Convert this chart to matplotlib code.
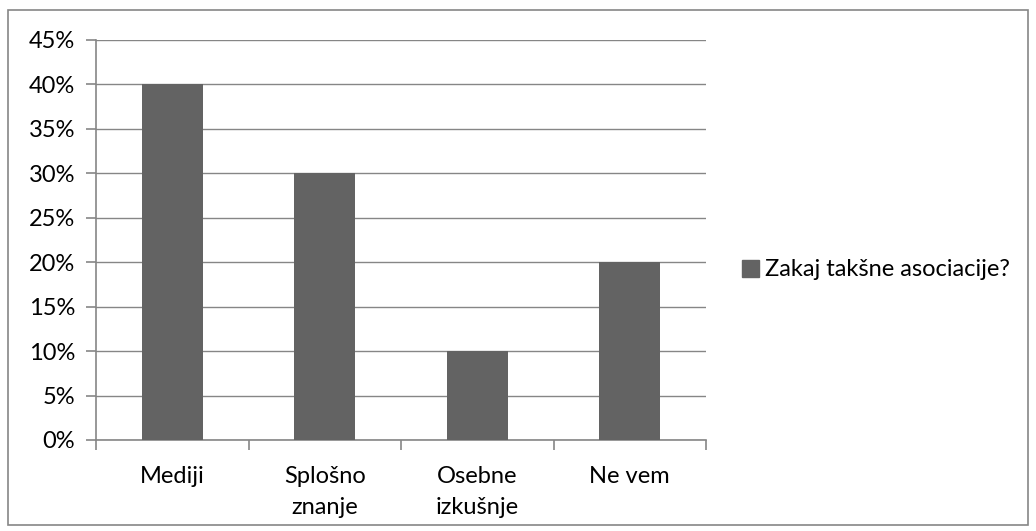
import matplotlib
matplotlib.use("Agg")
import matplotlib.pyplot as plt
from matplotlib.patches import Rectangle
from matplotlib.ticker import PercentFormatter, MultipleLocator

categories = ["Mediji", "Splošno\nznanje", "Osebne\nizkušnje", "Ne vem"]
values = [40, 30, 10, 20]
series_name = "Zakaj takšne asociacije?"

plt.rcParams['font.family'] = ['Lato', 'DejaVu Sans']
FS = 17
fig = plt.figure(figsize=(10.36, 5.31), dpi=100)
ax = fig.add_axes([96/1036, 91/531, 610/1036, 400/531])

grid_c = "#868686"
bar_c = "#636363"
x = range(len(categories))
ax.bar(x, values, width=0.4, color=bar_c, zorder=3, label=series_name)
ax.set_xlim(-0.5, len(categories) - 0.5)
ax.set_ylim(0, 45)
ax.yaxis.set_major_locator(MultipleLocator(5))
ax.yaxis.set_major_formatter(PercentFormatter(decimals=0))
ax.grid(axis='y', color=grid_c, linewidth=1, zorder=0)
for s in ['top', 'right']:
    ax.spines[s].set_visible(False)
for s in ['left', 'bottom']:
    ax.spines[s].set_color(grid_c)
    ax.spines[s].set_linewidth(1.2)
ax.set_xticks([i for i in x])
ax.set_xticklabels(categories, fontsize=FS, linespacing=1.55)
ax.tick_params(axis='x', length=0, pad=19)
ax.set_xticks([i - 0.5 for i in range(len(categories) + 1)], minor=True)
ax.tick_params(axis='x', which='minor', length=7, color=grid_c, width=1.2)
ax.tick_params(axis='y', length=7, color=grid_c, width=1.2, labelsize=FS, pad=8)
for lab in ax.get_xticklabels():
    lab.set_verticalalignment('top')

fig.legend(handles=[Rectangle((0, 0), 1, 1, color=bar_c)], labels=[series_name],
           loc='center left', bbox_to_anchor=(721/1036, 1 - 270/531), frameon=False,
           fontsize=FS, handlelength=0.7, handleheight=0.7, handletextpad=0.25)

fig.patches.append(Rectangle((8/1036, 6/531), 1020/1036, 515/531, transform=fig.transFigure,
                             fill=False, edgecolor="#868686", linewidth=1.2))
fig.savefig("out.png", dpi=100, facecolor="white")
